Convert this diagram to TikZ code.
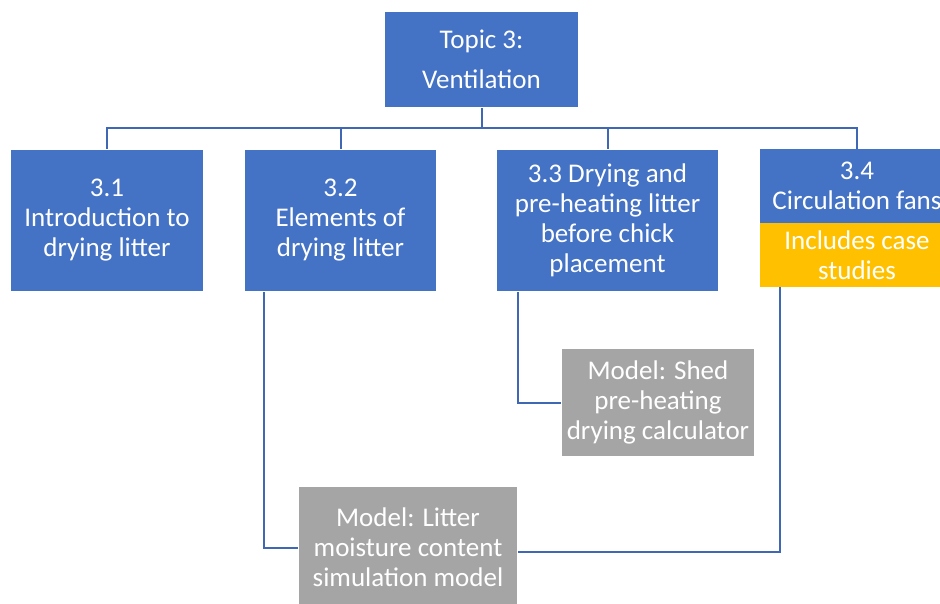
\documentclass[tikz,border=0pt]{standalone}
\usepackage{fontspec}
\setmainfont{Carlito}
\definecolor{boxblue}{HTML}{4472C4}
\definecolor{boxgray}{HTML}{A5A5A5}
\definecolor{boxorange}{HTML}{FFC000}
\definecolor{connblue}{HTML}{3F67B3}
\tikzset{
  card/.style={rectangle, inner sep=0pt, align=center, text=white,
    font=\fontsize{27}{30}\selectfont,
    draw=gray!30, double=white, double distance=1.2pt, line width=0.6pt},
  bluecard/.style={card, fill=boxblue},
  graycard/.style={card, fill=boxgray},
  plaincard/.style={rectangle, inner sep=0pt, align=center, text=white,
    font=\fontsize{27}{30}\selectfont},
  conn/.style={draw=connblue, line width=2pt},
}
\begin{document}
\begin{tikzpicture}[x=1pt,y=-1pt]
\useasboundingbox (0,0) rectangle (940,603);
\clip (0,0) rectangle (940,603);
\fill[white] (0,0) rectangle (940,603);

\node[bluecard, minimum width=195pt, minimum height=97pt,
      font=\fontsize{27}{40}\selectfont] (topic) at (481.5,59.5) {Topic 3:\\Ventilation};

\node[bluecard, minimum width=194pt, minimum height=143pt] (b1) at (107,220.5)
  {3.1\\Introduction to\\drying litter};
\node[bluecard, minimum width=193pt, minimum height=143pt] (b2) at (340.5,220.5)
  {3.2\\Elements of\\drying litter};
\node[bluecard, minimum width=223pt, minimum height=143pt] (b3) at (607.5,220.5)
  {3.3 Drying and\\pre-heating litter\\before chick\\placement};
\node[plaincard, fill=boxblue, minimum width=194pt, minimum height=74pt] (b4) at (857,186)
  {3.4\\Circulation fans};
\node[plaincard, fill=boxorange, minimum width=194pt, minimum height=64pt] (b4o) at (857,255)
  {Includes case\\studies};

\node[graycard, minimum width=194pt, minimum height=109pt] (m1) at (658,402.5)
  {Model: Shed\\pre-heating\\drying calculator};
\node[graycard, minimum width=220pt, minimum height=122pt] (m2) at (408,547)
  {Model: Litter\\moisture content\\simulation model};

\coordinate (bus) at (0,128);
\draw[conn] (topic.south) -- (topic.south |- bus);
\draw[conn] (b1.north) -- (b1.north |- bus) -- (b4.north |- bus) -- (b4.north);
\draw[conn] (b2.north) -- (b2.north |- bus);
\draw[conn] (b3.north) -- (b3.north |- bus);

\draw[conn] ([xshift=20pt]b2.south west) |- ([yshift=-1pt]m2.west);
\draw[conn] ([xshift=22pt]b3.south west) |- ([yshift=-0.5pt]m1.west);
\draw[conn] ([xshift=20pt]b4o.south west) |- ([yshift=-5pt]m2.east);
\end{tikzpicture}
\end{document}
